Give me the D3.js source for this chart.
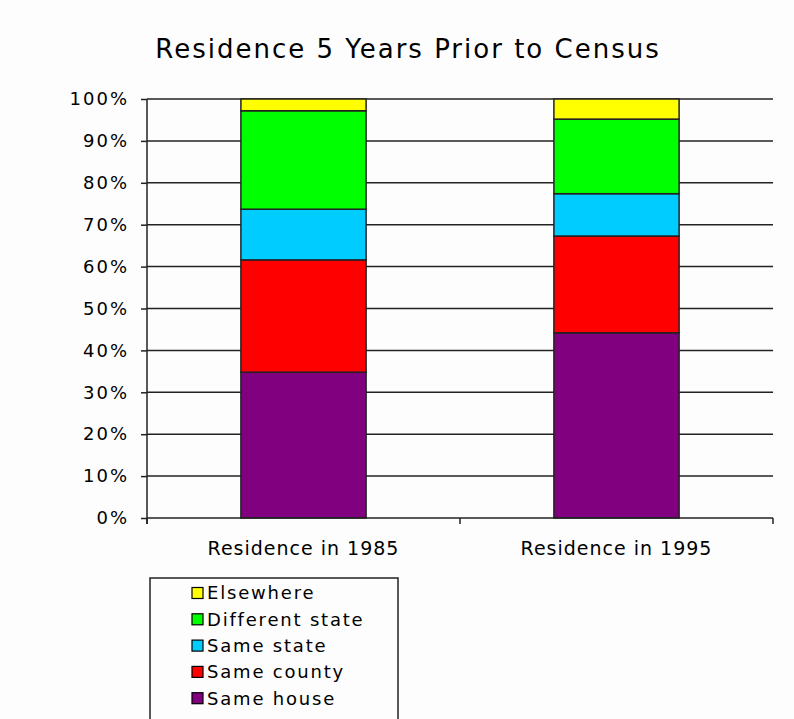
<!DOCTYPE html>
<html>
<head>
<meta charset="utf-8">
<script src="https://cdn.jsdelivr.net/npm/d3@7"></script>
<style>
  body { margin: 0; background: #fdfdfd; }
  text { font-family: "DejaVu Sans", Verdana, sans-serif; fill: #000; }
</style>
</head>
<body>
<div id="chart"></div>
<script>
  // data (percent of population)
  var categories = ["Residence in 1985", "Residence in 1995"];
  var seriesNames = ["Same house", "Same county", "Same state", "Different state", "Elsewhere"];
  var sameHouse = [34.8, 44.2];
  var sameCounty = [26.8, 23.1];
  var sameState = [12.1, 10.1];
  var differentState = [23.5, 17.8];
  var elsewhere = [2.8, 4.8];
  var colors = ["#800080", "#ff0000", "#00ccff", "#00ff00", "#ffff00"];
  var yTicks = [0, 10, 20, 30, 40, 50, 60, 70, 80, 90, 100];

  var svgWidth = 794;
  var svgHeight = 719;

  var margin = { top: 99, right: 21, bottom: 201, left: 147 };
  var width = svgWidth - margin.left - margin.right;
  var height = svgHeight - margin.top - margin.bottom;

  var svg = d3.select("#chart")
    .append("svg")
    .attr("width", svgWidth)
    .attr("height", svgHeight);

  // build rows for the stack
  var rows = categories.map(function(c, i) {
    return {
      cat: c,
      "Same house": sameHouse[i],
      "Same county": sameCounty[i],
      "Same state": sameState[i],
      "Different state": differentState[i],
      "Elsewhere": elsewhere[i]
    };
  });
  var stacked = d3.stack().keys(seriesNames)(rows);

  var xScale = d3.scaleBand()
    .domain(categories)
    .range([0, width])
    .paddingInner(0.6)
    .paddingOuter(0.3);

  var yScale = d3.scaleLinear()
    .domain([0, 100])
    .range([height, 0]);

  svg.append("text")
    .attr("x", 408)
    .attr("y", 58)
    .attr("text-anchor", "middle")
    .style("font-size", "26px")
    .style("letter-spacing", "2px")
    .text("Residence 5 Years Prior to Census");

  var chartGroup = svg.append("g")
    .attr("transform", `translate(${margin.left}, ${margin.top})`);

  // gridlines
  chartGroup.append("g")
    .selectAll("line")
    .data(yTicks.filter(d => d > 0))
    .enter()
    .append("line")
    .attr("x1", 0)
    .attr("x2", width)
    .attr("y1", d => yScale(d))
    .attr("y2", d => yScale(d))
    .attr("stroke", "#222")
    .attr("stroke-width", 1.5);

  // bars
  chartGroup.append("g")
    .selectAll("g")
    .data(stacked)
    .enter()
    .append("g")
    .attr("fill", (d, i) => colors[i])
    .selectAll("rect")
    .data(d => d)
    .enter()
    .append("rect")
    .attr("x", d => xScale(d.data.cat))
    .attr("width", xScale.bandwidth())
    .attr("y", d => yScale(d[1]))
    .attr("height", d => yScale(d[0]) - yScale(d[1]))
    .attr("stroke", "#222")
    .attr("stroke-width", 1.5);

  // y axis
  var leftAxis = d3.axisLeft(yScale)
    .tickValues(yTicks)
    .tickSize(6)
    .tickPadding(12)
    .tickFormat(d => d + "%");
  var yAxisG = chartGroup.append("g").call(leftAxis);
  yAxisG.select(".domain").attr("stroke", "#222").attr("stroke-width", 1.5).attr("d", `M0,0V${height + 6}`);
  yAxisG.selectAll(".tick line").attr("stroke", "#222").attr("stroke-width", 1.5);
  yAxisG.selectAll(".tick text")
    .attr("font-family", null)
    .attr("font-size", null)
    .style("font-size", "18px")
    .style("letter-spacing", "2px");

  // x axis
  var xAxisG = chartGroup.append("g")
    .attr("transform", `translate(0, ${height})`);
  xAxisG.append("line")
    .attr("x1", 0).attr("x2", width)
    .attr("stroke", "#222").attr("stroke-width", 1.5);
  xAxisG.selectAll("line.sep")
    .data([0, width / 2, width])
    .enter()
    .append("line")
    .attr("class", "sep")
    .attr("x1", d => d).attr("x2", d => d)
    .attr("y1", 0).attr("y2", 6)
    .attr("stroke", "#222").attr("stroke-width", 1.5);
  xAxisG.selectAll("text")
    .data(categories)
    .enter()
    .append("text")
    .attr("x", d => xScale(d) + xScale.bandwidth() / 2)
    .attr("y", 37)
    .attr("text-anchor", "middle")
    .style("font-size", "19px")
    .style("letter-spacing", "1px")
    .text(d => d);

  // legend
  var legend = svg.append("g").attr("transform", "translate(150, 578)");
  legend.append("rect")
    .attr("width", 248)
    .attr("height", 142)
    .attr("fill", "#fdfdfd")
    .attr("stroke", "#222")
    .attr("stroke-width", 1.5);

  var legendItems = legend.selectAll("g.item")
    .data(seriesNames.slice().reverse())
    .enter()
    .append("g")
    .attr("class", "item")
    .attr("transform", (d, i) => `translate(42, ${15 + i * 26.3})`);

  legendItems.append("rect")
    .attr("x", 0).attr("y", -5.5)
    .attr("width", 11).attr("height", 11)
    .attr("fill", d => colors[seriesNames.indexOf(d)])
    .attr("stroke", "#000")
    .attr("stroke-width", 1.2);

  legendItems.append("text")
    .attr("x", 15)
    .attr("y", 0)
    .attr("dy", "0.35em")
    .style("font-size", "18px")
    .style("letter-spacing", "1.8px")
    .text(d => d);
</script>
</body>
</html>
